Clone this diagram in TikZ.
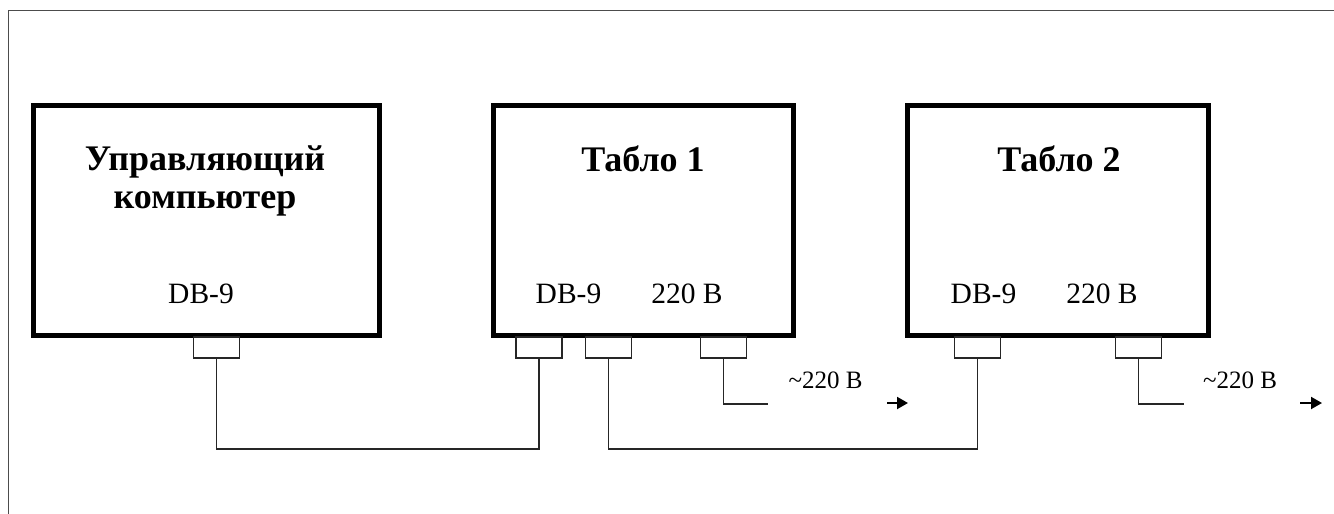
\documentclass[tikz,border=0pt]{standalone}
\usepackage{fontspec}
\setmainfont{Liberation Serif}
\usetikzlibrary{arrows.meta}
\begin{document}
\begin{tikzpicture}[x=1pt,y=-1pt,
  bigbox/.style={draw=black, line width=5pt, minimum height=230pt, inner sep=0pt},
  port/.style={draw=black!85, line width=1.7pt, minimum width=46pt, minimum height=21pt, inner sep=0pt},
  wire/.style={draw=black!85, line width=1.7pt},
  title/.style={font=\fontsize{36}{38}\selectfont\bfseries, anchor=base, inner sep=0pt},
  plabel/.style={font=\fontsize{29.5}{32}\selectfont, anchor=base, inner sep=0pt},
  vlabel/.style={font=\fontsize{25}{27}\selectfont, anchor=base, inner sep=0pt},
  outarrow/.style={line width=2pt, -{Triangle[length=11pt,width=12pt]}}]
\useasboundingbox (0,0) rectangle (1334,514);
% outer frame (open to the right and bottom)
\draw[black!70, line width=1.6pt] (8.5,514) -- (8.5,10.5) -- (1334,10.5);

% boxes
\node[bigbox, minimum width=346pt] (pc) at (206,220) {};
\node[bigbox, minimum width=300pt] (t1) at (643,220) {};
\node[bigbox, minimum width=301pt] (t2) at (1057.5,220) {};

% texts
\node[title] (pct1) at (205,170) {Управляющий};
\node[title] (pct2) at (205,208) {компьютер};
\node[plabel] (pcdb) at (201,303) {DB-9};
\node[title] (t1t) at (643,171) {Табло 1};
\node[plabel] (t1db) at (568.5,303) {DB-9};
\node[plabel] (t1v) at (687,303) {220 В};
\node[title] (t2t) at (1059,171) {Табло 2};
\node[plabel] (t2db) at (983.5,303) {DB-9};
\node[plabel] (t2v) at (1102,303) {220 В};

% ports
\node[port] (p1) at (216.5,347.5) {};
\node[port] (t1a) at (539,347.5) {};
\node[port] (t1b) at (608.5,347.5) {};
\node[port] (t1c) at (723.5,347.5) {};
\node[port] (t2a) at (977.5,347.5) {};
\node[port] (t2b) at (1138.5,347.5) {};

% wires
\coordinate (bus) at (0,449);
\draw[wire] (p1.south) -- (p1.south |- bus) -| (t1a.south);
\draw[wire] (t1b.south) -- (t1b.south |- bus) -| (t2a.south);
\coordinate (e1) at (768,404);
\coordinate (e2) at (1184,404);
\draw[wire] (t1c.south) |- (e1);
\draw[wire] (t2b.south) |- (e2);

% mains labels and arrows
\node[vlabel] (v1) at (825.5,388.5) {\textasciitilde 220 В};
\node[vlabel] (v2) at (1240,388.5) {\textasciitilde 220 В};
\coordinate (a1s) at (887,403);
\coordinate (a1e) at (908,403);
\coordinate (a2s) at (1300,403);
\coordinate (a2e) at (1322,403);
\draw[outarrow] (a1s) -- (a1e);
\draw[outarrow] (a2s) -- (a2e);
\end{tikzpicture}
\end{document}
